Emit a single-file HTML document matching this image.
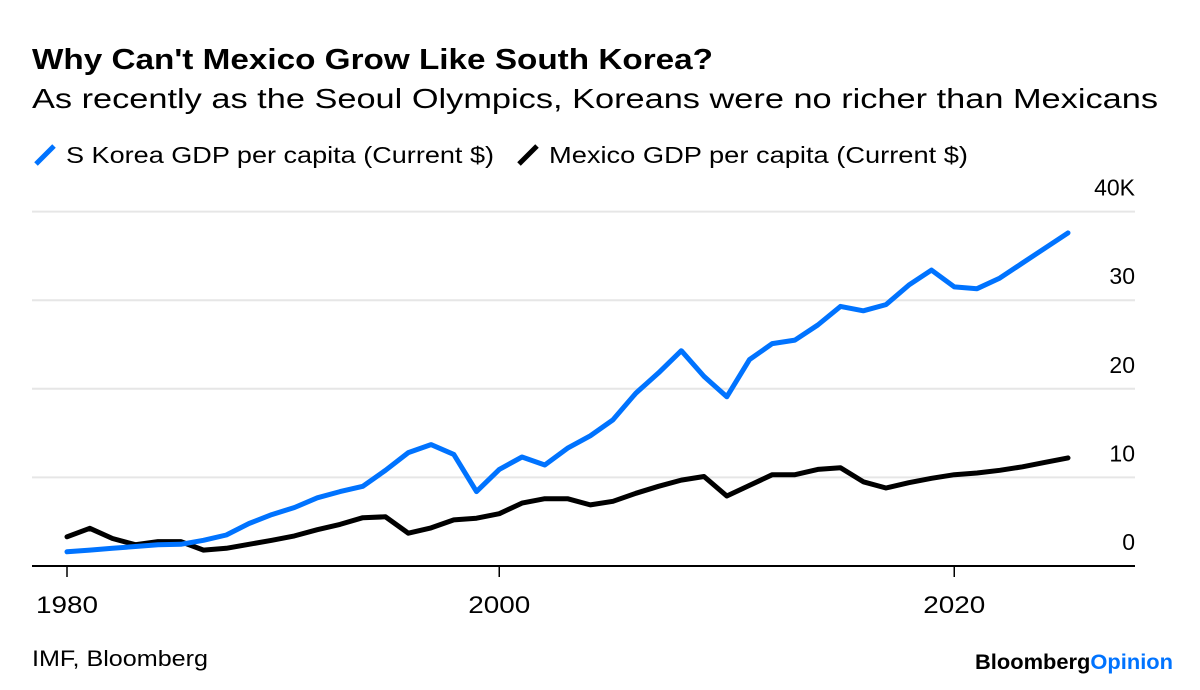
<!DOCTYPE html>
<html><head><meta charset="utf-8"><style>
body{margin:0;background:#fff;width:1200px;height:685px;overflow:hidden;font-family:"Liberation Sans",Arial,sans-serif;}
svg text{font-family:"Liberation Sans",Arial,sans-serif;}
</style></head><body>
<svg id="chart" width="1200" height="685" xmlns="http://www.w3.org/2000/svg">
<text x="32" y="69" font-size="29" font-weight="bold" fill="#000" textLength="681" lengthAdjust="spacingAndGlyphs">Why Can't Mexico Grow Like South Korea?</text>
<text x="32" y="108" font-size="28" fill="#000" textLength="1126" lengthAdjust="spacingAndGlyphs">As recently as the Seoul Olympics, Koreans were no richer than Mexicans</text>
<g>
<line x1="36" y1="164" x2="54" y2="146" stroke="#0073ff" stroke-width="5"/>
<text x="66" y="163" font-size="23" fill="#000" textLength="428" lengthAdjust="spacingAndGlyphs">S Korea GDP per capita (Current $)</text>
<line x1="519" y1="164" x2="537" y2="146" stroke="#000" stroke-width="5"/>
<text x="549" y="163" font-size="23" fill="#000" textLength="419" lengthAdjust="spacingAndGlyphs">Mexico GDP per capita (Current $)</text>
</g>
<g id="grid"></g><g id="series"></g><g id="axes"></g>
<text x="32" y="666" font-size="22" fill="#000" textLength="176" lengthAdjust="spacingAndGlyphs">IMF, Bloomberg</text>
<text x="975" y="669" font-size="21" font-weight="bold" textLength="198" lengthAdjust="spacingAndGlyphs"><tspan fill="#000">Bloomberg</tspan><tspan fill="#0073ff">Opinion</tspan></text>
</svg>
<script>
const years = [1980,1981,1982,1983,1984,1985,1986,1987,1988,1989,1990,1991,1992,1993,1994,1995,1996,1997,1998,1999,2000,2001,2002,2003,2004,2005,2006,2007,2008,2009,2010,2011,2012,2013,2014,2015,2016,2017,2018,2019,2020,2021,2022,2023,2024];
const koreaGdp = [1.6,1.8,2.0,2.2,2.4,2.45,2.9,3.5,4.8,5.8,6.6,7.7,8.4,9.0,10.8,12.8,13.7,12.6,8.4,10.9,12.3,11.4,13.3,14.7,16.5,19.5,21.8,24.3,21.4,19.1,23.3,25.1,25.5,27.2,29.3,28.8,29.5,31.7,33.4,31.5,31.3,32.5,34.2,35.9,37.6];
const mexicoGdp = [3.3,4.25,3.1,2.4,2.75,2.75,1.8,2.0,2.45,2.9,3.4,4.1,4.7,5.45,5.55,3.7,4.3,5.2,5.4,5.9,7.1,7.6,7.6,6.9,7.3,8.2,9.0,9.7,10.1,7.9,9.1,10.3,10.3,10.9,11.1,9.5,8.8,9.4,9.9,10.3,10.5,10.8,11.2,11.7,12.2];
const yTicks = [0,10,20,30,40];
const yTickLabels = ["0","10","20","30","40K"];
const xTickYears = [1980,1999,2019];
const xTickLabels = ["1980","2000","2020"];

const NS="http://www.w3.org/2000/svg";
const x = y => 67 + (y-1980)*(1068-67)/44;
const yS = v => 566 - v*8.86;
function mk(tag, attrs, parent){const e=document.createElementNS(NS,tag);for(const k in attrs)e.setAttribute(k,attrs[k]);parent.appendChild(e);return e;}
const grid=document.getElementById('grid'), series=document.getElementById('series'), axes=document.getElementById('axes');
yTicks.forEach((t,i)=>{
  if(t>0){const l=mk('line',{x1:32,x2:1135,y1:yS(t),y2:yS(t),stroke:'#e6e6e6','stroke-width':2},grid);
  
  }
  const tx=mk('text',{x:1135,y:yS(t)-16,'font-size':23,'text-anchor':'end',fill:'#000'},axes);
  tx.textContent=yTickLabels[i];
  
  
});
const ax=mk('line',{x1:32,x2:1135,y1:566,y2:566,stroke:'#000','stroke-width':2},axes);


xTickYears.forEach((yr,i)=>{
  const t=mk('line',{x1:x(yr),x2:x(yr),y1:566,y2:577,stroke:'#000','stroke-width':1.5},axes);
  
  
  const tx=mk('text',{x:x(yr)-31,y:613,'font-size':24,fill:'#000',textLength:62,lengthAdjust:'spacingAndGlyphs'},axes);
  tx.textContent=xTickLabels[i];
  
  
});
function line(vals,color,name){
  const d=vals.map((v,i)=>(i?'L':'M')+x(years[i]).toFixed(1)+','+yS(v).toFixed(1)).join('');
  const p=mk('path',{d:d,fill:'none',stroke:color,'stroke-width':5,'stroke-linejoin':'round','stroke-linecap':'round'},series);
  
  
}
line(mexicoGdp,'#000','mexico-line');
line(koreaGdp,'#0073ff','korea-line');
</script>
</body></html>
